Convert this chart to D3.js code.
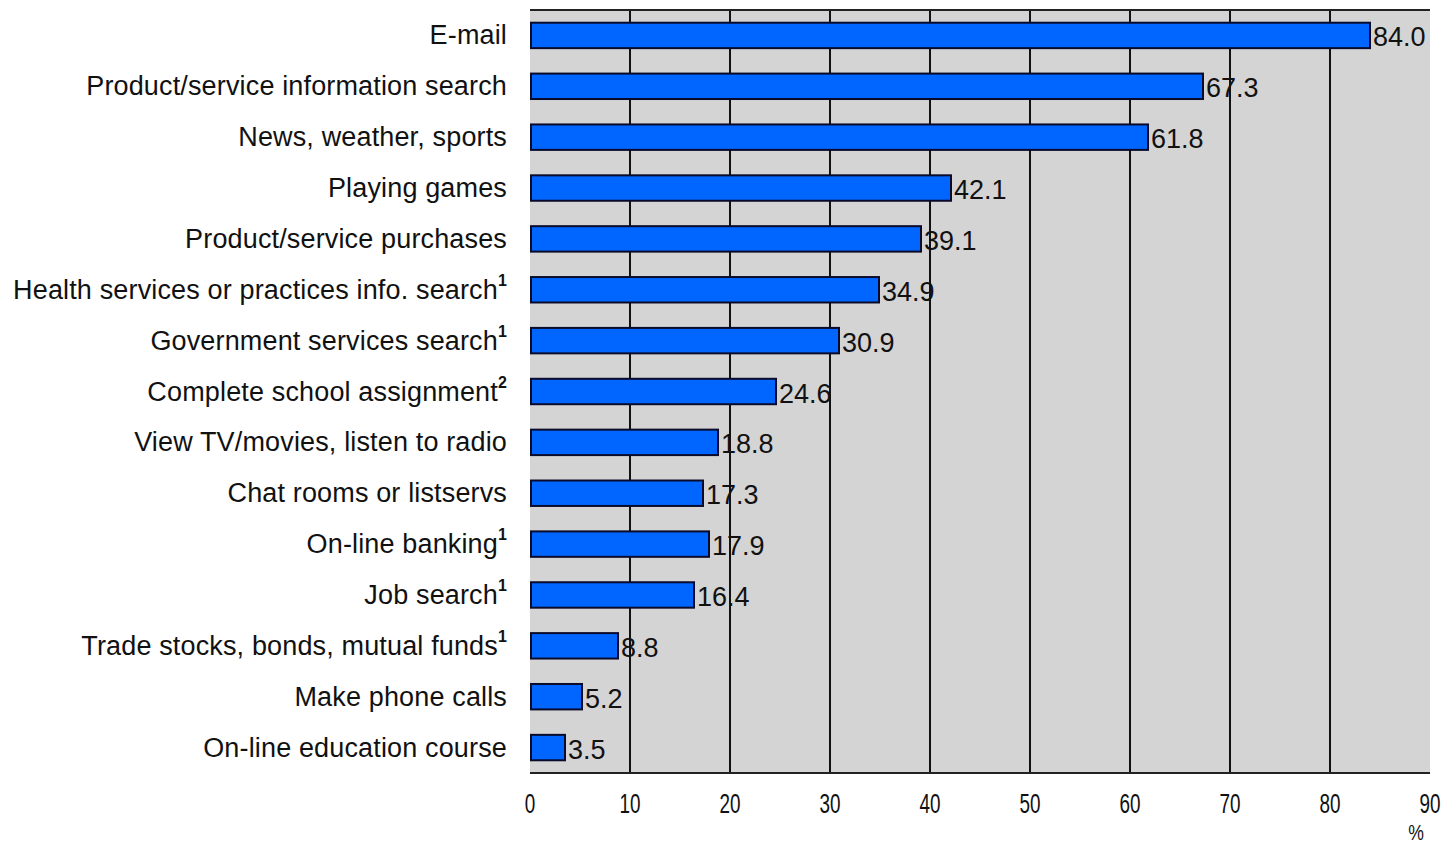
<!DOCTYPE html>
<html>
<head>
<meta charset="utf-8">
<script src="https://cdn.jsdelivr.net/npm/d3@7"></script>
<style>
  html, body { margin: 0; padding: 0; background: #ffffff; }
  svg { display: block; }
  text { font-family: "Liberation Sans", Arial, sans-serif; fill: #111; }
</style>
</head>
<body>
<svg id="chart" width="1450" height="848"></svg>
<script>
// Internet activities, share of users (%)
const categories = [
  "E-mail",
  "Product/service information search",
  "News, weather, sports",
  "Playing games",
  "Product/service purchases",
  "Health services or practices info. search",
  "Government services search",
  "Complete school assignment",
  "View TV/movies, listen to radio",
  "Chat rooms or listservs",
  "On-line banking",
  "Job search",
  "Trade stocks, bonds, mutual funds",
  "Make phone calls",
  "On-line education course"
];
const notes = ["", "", "", "", "", "1", "1", "2", "", "", "1", "1", "1", "", ""];
const values = [84.0, 67.3, 61.8, 42.1, 39.1, 34.9, 30.9, 24.6, 18.8, 17.3, 17.9, 16.4, 8.8, 5.2, 3.5];
const ticks = [0, 10, 20, 30, 40, 50, 60, 70, 80, 90];
const unitLabel = "%";

const svg = d3.select("#chart");
const m = { left: 530, right: 20, top: 10, bottom: 75 };
const W = 1450, H = 848;

const x = d3.scaleLinear().domain([0, 90]).range([m.left, W - m.right]);
const y = d3.scaleBand().domain(categories).range([m.top, H - m.bottom]).paddingInner(0.5).paddingOuter(0.25);

// plot background
svg.append("rect")
  .attr("x", x(0)).attr("y", m.top)
  .attr("width", x(90) - x(0)).attr("height", H - m.bottom - m.top)
  .attr("fill", "#d4d4d4");

// vertical grid lines
svg.append("g").selectAll("line")
  .data(ticks.filter(t => t > 0 && t < 90))
  .join("line")
  .attr("x1", d => x(d)).attr("x2", d => x(d))
  .attr("y1", m.top).attr("y2", H - m.bottom)
  .attr("stroke", "#111").attr("stroke-width", 2);

// top and bottom frame lines
svg.append("line")
  .attr("x1", x(0)).attr("x2", x(90)).attr("y1", m.top).attr("y2", m.top)
  .attr("stroke", "#222").attr("stroke-width", 2);
svg.append("line")
  .attr("x1", x(0)).attr("x2", x(90)).attr("y1", H - m.bottom).attr("y2", H - m.bottom)
  .attr("stroke", "#222").attr("stroke-width", 2);

// bars
svg.append("g").selectAll("rect")
  .data(categories)
  .join("rect")
  .attr("x", x(0) + 1)
  .attr("y", d => y(d))
  .attr("width", (d, i) => x(values[i]) - x(0) - 1)
  .attr("height", y.bandwidth())
  .attr("fill", "#0066ff")
  .attr("stroke", "#0a0a2a")
  .attr("stroke-width", 2);

// value labels
svg.append("g").selectAll("text")
  .data(categories)
  .join("text")
  .attr("x", (d, i) => x(values[i]) + 3)
  .attr("y", d => y(d) + y.bandwidth() / 2 + 2)
  .attr("dominant-baseline", "central")
  .attr("font-size", 27)
  .text((d, i) => values[i].toFixed(1));

// category labels with footnote markers
const lab = svg.append("g").selectAll("text")
  .data(categories)
  .join("text")
  .attr("x", 507)
  .attr("y", d => y(d) + y.bandwidth() / 2)
  .attr("dominant-baseline", "central")
  .attr("text-anchor", "end")
  .attr("font-size", 27)
  .attr("letter-spacing", 0.15);
lab.append("tspan").text(d => d);
lab.filter((d, i) => notes[i] !== "")
  .append("tspan")
  .attr("font-size", 16)
  .attr("font-weight", "bold")
  .attr("dy", -10)
  .text(d => notes[categories.indexOf(d)]);

// x tick labels (condensed)
svg.append("g").selectAll("text")
  .data(ticks)
  .join("text")
  .attr("x", d => x(d))
  .attr("y", 804)
  .attr("dominant-baseline", "central")
  .attr("text-anchor", "middle")
  .attr("font-size", 27)
  .attr("transform", d => `translate(${x(d)},804) scale(0.7,1) translate(${-x(d)},-804)`)
  .text(d => d);

svg.append("text")
  .attr("x", 1416).attr("y", 832)
  .attr("dominant-baseline", "central")
  .attr("text-anchor", "middle")
  .attr("font-size", 22)
  .attr("transform", "translate(1416,832) scale(0.8,1) translate(-1416,-832)")
  .text(unitLabel);
</script>
</body>
</html>
